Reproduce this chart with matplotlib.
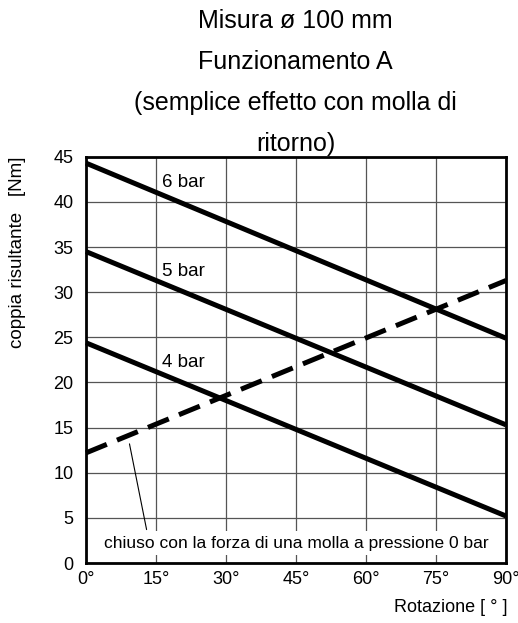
import matplotlib
matplotlib.use("Agg")
import matplotlib.pyplot as plt
import numpy as np

plt.rcParams["font.family"] = ["Liberation Sans", "DejaVu Sans"]

# rotation angles (deg) at the line ends
angle = [0, 90]
torque_6bar = [44.3, 24.9]
torque_5bar = [34.5, 15.3]
torque_4bar = [24.4, 5.2]
spring_0bar = [12.2, 31.3]

bar_labels = ["6 bar", "5 bar", "4 bar"]
bar_label_y = [42.1, 32.3, 22.2]

x_ticks = [0, 15, 30, 45, 60, 75, 90]
x_ticklabels = ["0°", "15°", "30°", "45°", "60°", "75°", "90°"]
y_ticks = [0, 5, 10, 15, 20, 25, 30, 35, 40, 45]

title_lines = ["Misura ø 100 mm", "Funzionamento A",
               "(semplice effetto con molla di", "ritorno)"]

fig = plt.figure(figsize=(5.18, 6.23), dpi=100)
ax = fig.add_axes([0.166, 0.0963, 0.811, 0.652])

ax.set_xlim(0, 90)
ax.set_ylim(0, 45)
ax.set_xticks(x_ticks)
ax.set_xticklabels(x_ticklabels)
ax.set_yticks(y_ticks)
ax.tick_params(length=0, labelsize=13)
ax.tick_params(axis="x", pad=6)
ax.tick_params(axis="y", pad=9)
ax.grid(True, color="#555555", linewidth=0.9)
ax.set_axisbelow(True)
for sp in ax.spines.values():
    sp.set_linewidth(2)
    sp.set_color("black")

for vals in (torque_6bar, torque_5bar, torque_4bar):
    ax.plot(angle, vals, color="black", linewidth=3.6, solid_capstyle="butt",
            clip_on=False, zorder=3)
ax.plot(angle, spring_0bar, color="black", linewidth=3.6, dashes=(4.5, 2.2),
        clip_on=False, zorder=3)

for lab, yv in zip(bar_labels, bar_label_y):
    ax.text(16.2, yv, lab, fontsize=13.5, ha="left", va="center", zorder=4)

ax.annotate("", xy=(9.2, 13.5), xytext=(13.1, 3.4),
            arrowprops=dict(arrowstyle="-", color="black", linewidth=0.8),
            zorder=4)
ax.text(45, 2.2, "chiuso con la forza di una molla a pressione 0 bar",
        fontsize=12.5, ha="center", va="center", zorder=5,
        bbox=dict(facecolor="white", edgecolor="none", pad=3))

for i, line in enumerate(title_lines):
    fig.text(0.571, 1 - (21 + 41 * i) / 623, line, fontsize=18,
             ha="center", va="center")

fig.text(18 / 518, 1 - 157 / 623, "coppia risultante   [Nm]", fontsize=13.5,
         rotation=90, ha="center", va="top")
fig.text(507 / 518, 1 - 607 / 623, "Rotazione [ ° ]", fontsize=13,
         ha="right", va="center")

fig.savefig("out.png", dpi=100)
